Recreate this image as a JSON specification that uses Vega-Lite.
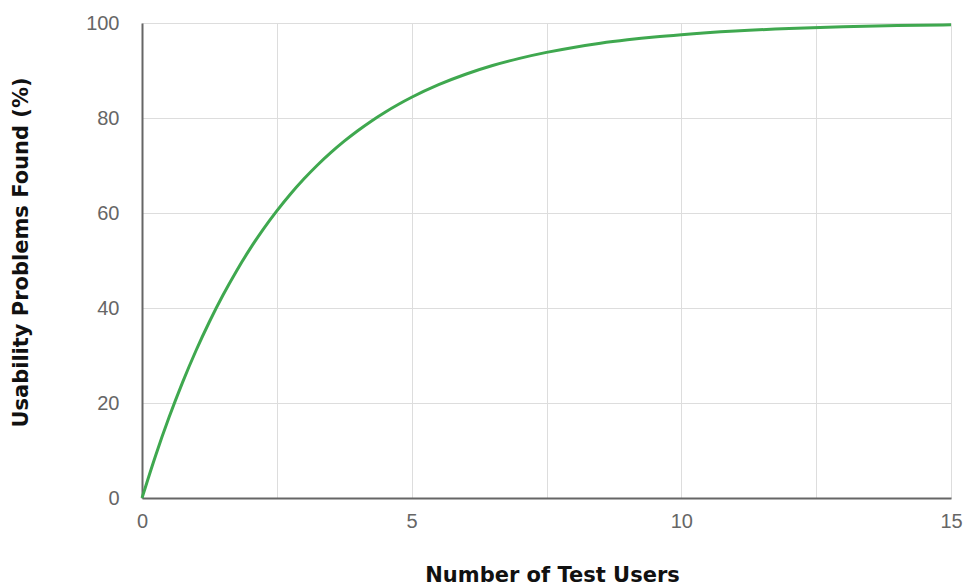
{
  "$schema": "https://vega.github.io/schema/vega-lite/v6.json",
  "width": 809,
  "height": 475,
  "autosize": {"type": "none"},
  "padding": {"left": 142, "top": 23, "right": 17, "bottom": 89},
  "background": "white",
  "config": {"view": {"stroke": null}},
  "data": {"values": [
    {"users": 0, "found": 0},
    {"users": 0.25, "found": 8.86},
    {"users": 0.5, "found": 16.93},
    {"users": 0.75, "found": 24.29},
    {"users": 1, "found": 31.0},
    {"users": 1.25, "found": 37.11},
    {"users": 1.5, "found": 42.68},
    {"users": 1.75, "found": 47.76},
    {"users": 2, "found": 52.39},
    {"users": 2.25, "found": 56.61},
    {"users": 2.5, "found": 60.45},
    {"users": 2.75, "found": 63.96},
    {"users": 3, "found": 67.15},
    {"users": 3.25, "found": 70.06},
    {"users": 3.5, "found": 72.71},
    {"users": 3.75, "found": 75.13},
    {"users": 4, "found": 77.33},
    {"users": 4.25, "found": 79.34},
    {"users": 4.5, "found": 81.17},
    {"users": 4.75, "found": 82.84},
    {"users": 5, "found": 84.36},
    {"users": 5.5, "found": 87.01},
    {"users": 6, "found": 89.21},
    {"users": 6.5, "found": 91.04},
    {"users": 7, "found": 92.55},
    {"users": 7.5, "found": 93.81},
    {"users": 8, "found": 94.86},
    {"users": 8.5, "found": 95.73},
    {"users": 9, "found": 96.45},
    {"users": 9.5, "found": 97.06},
    {"users": 10, "found": 97.55},
    {"users": 11, "found": 98.31},
    {"users": 12, "found": 98.84},
    {"users": 13, "found": 99.2},
    {"users": 14, "found": 99.45},
    {"users": 15, "found": 99.62}
  ]},
  "mark": {"type": "line", "color": "#3fa84f", "strokeWidth": 3, "interpolate": "monotone"},
  "encoding": {
    "x": {
      "field": "users", "type": "quantitative",
      "scale": {"domain": [0, 15], "nice": false},
      "axis": {
        "values": [0, 2.5, 5, 7.5, 10, 12.5, 15],
        "labelExpr": "datum.value % 5 === 0 ? datum.label : ''",
        "ticks": false,
        "grid": true, "gridColor": "#dddddd", "gridWidth": 1,
        "domainColor": "#666666", "domainWidth": 2,
        "labelFont": "Liberation Sans", "labelFontSize": 20, "labelColor": "#666666",
        "labelPadding": 13, "labelFlush": false,
        "title": "Number of Test Users",
        "titleFont": "DejaVu Sans", "titleFontSize": 21, "titleFontWeight": "bold", "titleColor": "#111111",
        "titleX": 410, "titleY": 77, "titleBaseline": "middle", "titleAlign": "center"
      }
    },
    "y": {
      "field": "found", "type": "quantitative",
      "scale": {"domain": [0, 100], "nice": false},
      "axis": {
        "values": [0, 20, 40, 60, 80, 100],
        "ticks": false,
        "grid": true, "gridColor": "#dddddd", "gridWidth": 1,
        "domainColor": "#666666", "domainWidth": 2,
        "labelFont": "Liberation Sans", "labelFontSize": 20, "labelColor": "#666666",
        "labelPadding": 23,
        "title": "Usability Problems Found (%)",
        "titleFont": "DejaVu Sans", "titleFontSize": 21, "titleFontWeight": "bold", "titleColor": "#111111",
        "titleX": -121, "titleY": 229, "titleAngle": -90, "titleBaseline": "middle", "titleAlign": "center"
      }
    }
  }
}
